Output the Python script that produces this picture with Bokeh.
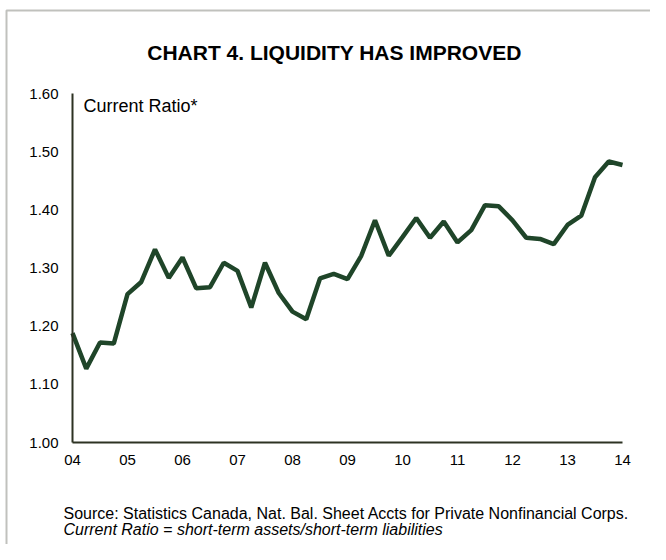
from bokeh.plotting import figure
from bokeh.models import Range1d, FixedTicker, Label, ColumnDataSource, BoxAnnotation
from bokeh.embed import file_html
from bokeh.resources import INLINE

# ---- data ----
title_text = "CHART 4. LIQUIDITY HAS IMPROVED"
series_label = "Current Ratio*"
source_note = "Source: Statistics Canada, Nat. Bal. Sheet Accts for Private Nonfinancial Corps."
definition_note = "Current Ratio = short-term assets/short-term liabilities"

start_year = 2004
year_ticks = [2004, 2005, 2006, 2007, 2008, 2009, 2010, 2011, 2012, 2013, 2014]
year_labels = ["04", "05", "06", "07", "08", "09", "10", "11", "12", "13", "14"]
y_ticks = [1.0, 1.1, 1.2, 1.3, 1.4, 1.5, 1.6]
y_labels = ["1.00", "1.10", "1.20", "1.30", "1.40", "1.50", "1.60"]

# quarterly current ratio, 2004Q1 .. 2014Q1
current_ratio = [
    1.188, 1.127, 1.172, 1.170,
    1.255, 1.276, 1.332, 1.283,
    1.318, 1.265, 1.267, 1.309,
    1.295, 1.232, 1.309, 1.257,
    1.225, 1.212, 1.282, 1.290,
    1.281, 1.321, 1.382, 1.321,
    1.353, 1.386, 1.352, 1.380,
    1.344, 1.365, 1.408, 1.406,
    1.382, 1.352, 1.350, 1.341,
    1.374, 1.390, 1.456, 1.483,
    1.477,
]
quarter_x = [start_year + i / 4 for i in range(len(current_ratio))]

# ---- layout (pixels) ----
W, H = 650, 544
AX_L, AX_R, AX_T, AX_B = 72, 622, 93, 442
x0, x1 = year_ticks[0], year_ticks[-1]
y0, y1 = y_ticks[0], y_ticks[-1]
SX = (AX_R - AX_L) / (x1 - x0)
SY = (AX_B - AX_T) / (y1 - y0)


def px_x(px):
    return x0 + (px - AX_L) / SX


def px_y(py):
    return y0 + (AX_B - py) / SY


AXIS_COL = "#2d3223"
LINE_COL = "#1f4529"
FONT = "Liberation Sans"

p = figure(width=W, height=H, output_backend="svg", toolbar_location=None,
           x_range=Range1d(px_x(0), px_x(W)), y_range=Range1d(px_y(H), px_y(0)),
           min_border=0, min_border_left=0, min_border_right=0,
           min_border_top=0, min_border_bottom=0,
           background_fill_color="white", border_fill_color="white",
           outline_line_color=None)

p.xgrid.visible = False
p.ygrid.visible = False

# outer chart frame (left and top edges visible)
p.add_layout(BoxAnnotation(left=px_x(6), top=px_y(10), right=px_x(W + 20),
                           bottom=px_y(H + 20), fill_alpha=0,
                           line_color=AXIS_COL, line_width=2))

src = ColumnDataSource(dict(x=quarter_x, y=current_ratio))
p.line("x", "y", source=src, line_color=LINE_COL, line_width=4.5)

for ax in (p.xaxis[0], p.yaxis[0]):
    ax.axis_line_color = AXIS_COL
    ax.axis_line_width = 2
    ax.major_tick_line_color = None
    ax.minor_tick_line_color = None
    ax.major_tick_out = 0
    ax.major_tick_in = 0
    ax.major_label_text_font = FONT
    ax.major_label_text_font_size = "15px"
    ax.major_label_text_color = "black"

p.xaxis[0].fixed_location = y0
p.xaxis[0].bounds = (x0, x1)
p.xaxis[0].ticker = FixedTicker(ticks=year_ticks)
p.xaxis[0].major_label_overrides = {t: l for t, l in zip(year_ticks, year_labels)}
p.xaxis[0].major_label_standoff = 12

p.yaxis[0].fixed_location = x0
p.yaxis[0].bounds = (y0, y1)
p.yaxis[0].ticker = FixedTicker(ticks=y_ticks)
p.yaxis[0].major_label_overrides = {t: l for t, l in zip(y_ticks, y_labels)}
p.yaxis[0].major_label_standoff = 14

p.add_layout(Label(x=px_x(334), y=px_y(52), text=title_text, text_align="center",
                   text_baseline="alphabetic", text_font=FONT,
                   text_font_style="bold", text_font_size="21px", text_color="black"))
p.add_layout(Label(x=px_x(83), y=px_y(105), text=series_label, text_align="left",
                   text_baseline="alphabetic", text_font=FONT, text_font_size="18px",
                   text_color="black"))
p.add_layout(Label(x=px_x(63), y=px_y(513), text=source_note, text_align="left",
                   text_baseline="alphabetic", text_font=FONT, text_font_size="16px",
                   text_color="black"))
p.add_layout(Label(x=px_x(63), y=px_y(529), text=definition_note, text_align="left",
                   text_baseline="alphabetic", text_font=FONT, text_font_size="16px",
                   text_font_style="italic", text_color="black"))

open("out.html", "w").write(file_html(p, INLINE))
